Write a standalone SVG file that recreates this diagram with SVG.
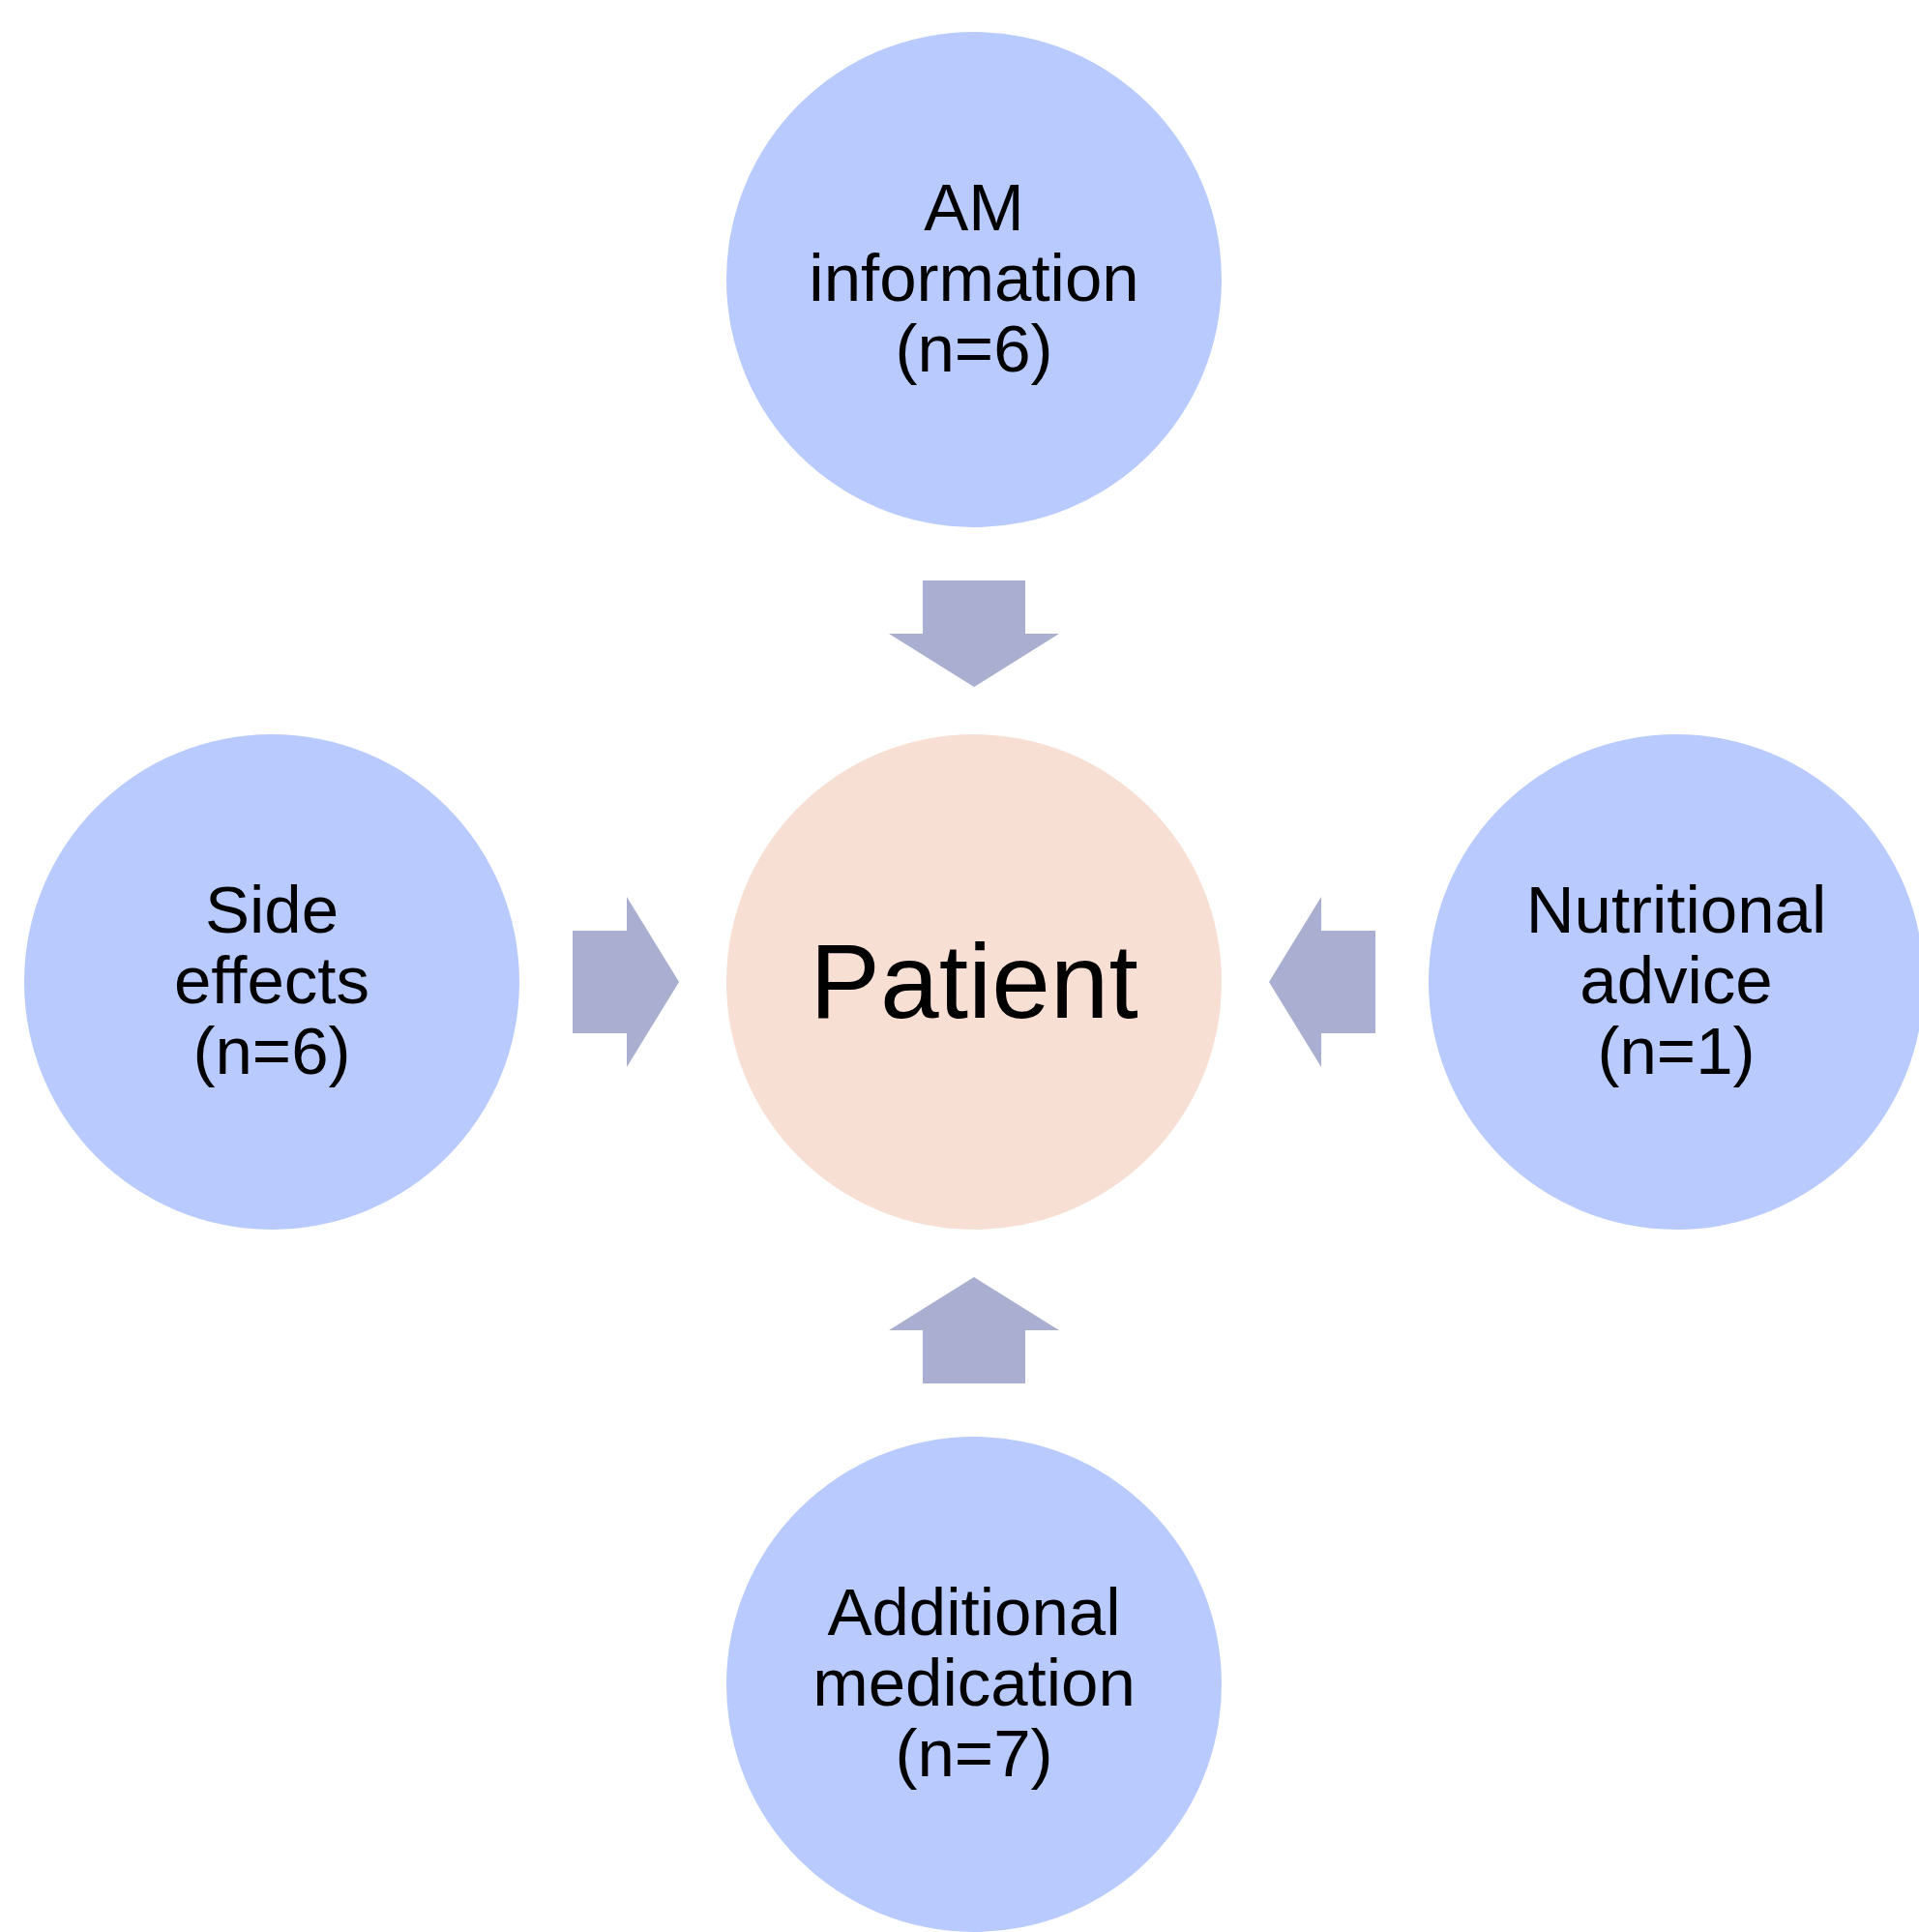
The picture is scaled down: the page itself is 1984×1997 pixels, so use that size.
<svg xmlns="http://www.w3.org/2000/svg" width="1984" height="1997" viewBox="0 0 1984 1997">
<style>
.outer{fill:#B9CAFE}
.center{fill:#F7DFD4}
.arrow{fill:#AAAED0}
text{font-family:"Liberation Sans",Arial,sans-serif;fill:#000;text-anchor:middle}
.lbl{font-size:69px}
.big{font-size:109px}
</style>
<rect width="1984" height="1997" fill="#fff"/>
<g id="connectors">
<polygon class="arrow" points="954,600 1060,600 1060,655 1095,655 1007,710 919,655 954,655"/>
<polygon class="arrow" points="954,1430 1060,1430 1060,1375 1095,1375 1007,1320 919,1375 954,1375"/>
<polygon class="arrow" points="592,962 648,962 648,927 702,1015 648,1103 648,1068 592,1068"/>
<polygon class="arrow" points="1422,962 1366,962 1366,927 1312,1015 1366,1103 1366,1068 1422,1068"/>
</g>
<g id="node-top">
<circle class="outer" cx="1007" cy="289" r="256"/>
<text class="lbl" x="1007" y="238">AM</text>
<text class="lbl" x="1007" y="311">information</text>
<text class="lbl" x="1007" y="384">(n=6)</text>
</g>
<g id="node-patient">
<circle class="center" cx="1007" cy="1015" r="256"/>
<text class="big" x="1007" y="1052">Patient</text>
</g>
<g id="node-left">
<circle class="outer" cx="281" cy="1015" r="256"/>
<text class="lbl" x="281" y="964">Side</text>
<text class="lbl" x="281" y="1037">effects</text>
<text class="lbl" x="281" y="1110">(n=6)</text>
</g>
<g id="node-right">
<circle class="outer" cx="1733" cy="1015" r="256"/>
<text class="lbl" x="1733" y="964">Nutritional</text>
<text class="lbl" x="1733" y="1037">advice</text>
<text class="lbl" x="1733" y="1110">(n=1)</text>
</g>
<g id="node-bottom">
<circle class="outer" cx="1007" cy="1741" r="256"/>
<text class="lbl" x="1007" y="1690">Additional</text>
<text class="lbl" x="1007" y="1763">medication</text>
<text class="lbl" x="1007" y="1836">(n=7)</text>
</g>
</svg>
